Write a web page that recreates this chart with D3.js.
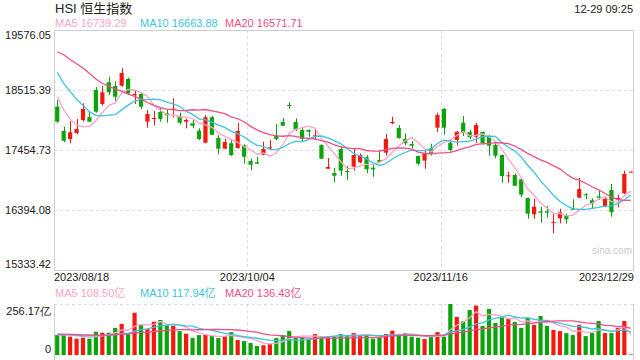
<!DOCTYPE html>
<html>
<head>
<meta charset="utf-8">
<script src="https://cdn.jsdelivr.net/npm/d3@7/dist/d3.min.js"></script>
<style>
body { margin: 0; background: #fff; }
svg { display: block; font-family: Arial, "Liberation Sans", "Noto Sans CJK SC", sans-serif; }
</style>
</head>
<body>
<div id="chart"></div>
<script>
// daily HSI candles, 2023/08/18 .. 2023/12/29
let open = [18220, 17791, 17649, 17755, 17985, 18038, 18515, 18268, 18652, 18586,
	18591, 18710, 18422, 18445, 17955, 18008, 18126, 18104, 18174, 18061,
	17955, 17927, 17796, 17584, 18033, 17667, 17478, 17573, 17490, 17538,
	17260, 17237, 17372, 17490, 17715, 17950, 18250, 17950, 17808, 17808,
	17697, 17543, 17124, 17048, 17472, 17084, 17160, 17237, 17326, 17142,
	17278, 17407, 17927, 17844, 17649, 17561, 17349, 17266, 17485, 17849,
	18180, 17578, 17632, 17937, 17773, 17690, 17773, 17690, 17543, 17366,
	16990, 17013, 16937, 16606, 16318, 16371, 16371, 16164, 16247, 16300,
	16417, 16612, 16672, 16566, 16636, 16465, 16748, 16583, 16689, 17065]
let close = [17955, 17619, 17768, 17826, 18180, 17955, 18132, 18475, 18475, 18397,
	18816, 18457, 18445, 18220, 18091, 18020, 18003, 18068, 18185, 17937,
	17985, 17884, 17649, 18033, 17725, 17478, 17596, 17366, 17791, 17336,
	17195, 17213, 17472, 17502, 17649, 17884, 18245, 17821, 17654, 17778,
	17715, 17301, 17154, 17000, 17089, 17066, 17366, 17366, 17114, 17114,
	17243, 17649, 17950, 17667, 17573, 17531, 17213, 17396, 17396, 18073,
	17849, 17455, 17778, 17761, 17679, 17897, 17573, 17531, 17354, 16995,
	17007, 16824, 16665, 16329, 16452, 16346, 16346, 16182, 16353, 16230,
	16406, 16765, 16654, 16505, 16612, 16589, 16359, 16606, 17030, 17071]
let high = [18339, 17867, 17967, 18003, 18280, 18144, 18568, 18586, 18751, 18669,
	18904, 18733, 18503, 18468, 18162, 18144, 18202, 18174, 18369, 18114,
	18008, 17997, 17838, 18073, 18056, 17715, 17654, 17632, 17937, 17555,
	17301, 17336, 17601, 17632, 17914, 18020, 18298, 18015, 17844, 17815,
	17826, 17555, 17313, 17137, 17502, 17172, 17490, 17396, 17361, 17190,
	17442, 17738, 18043, 17891, 17750, 17614, 17354, 17442, 17566, 18114,
	18197, 17632, 17791, 18056, 17808, 17932, 17782, 17720, 17573, 17375,
	17071, 17036, 16960, 16611, 16594, 16452, 16465, 16346, 16417, 16329,
	16583, 16960, 16689, 16601, 16735, 16629, 16854, 16665, 17089, 17075]
let low = [17937, 17591, 17573, 17732, 17955, 17950, 18114, 18238, 18427, 18321,
	18574, 18445, 18268, 18180, 17849, 17891, 17955, 17937, 18033, 17909,
	17838, 17838, 17632, 17573, 17715, 17379, 17467, 17349, 17478, 17213,
	17096, 17207, 17361, 17455, 17632, 17879, 18185, 17791, 17609, 17690,
	17632, 17296, 17119, 16884, 17000, 16924, 17089, 17220, 17043, 16983,
	17220, 17354, 17909, 17654, 17543, 17485, 17184, 17124, 17354, 17773,
	17725, 17425, 17531, 17702, 17649, 17584, 17555, 17354, 17308, 16877,
	16877, 16818, 16624, 16240, 16240, 16170, 16258, 15982, 16159, 16152,
	16394, 16606, 16589, 16424, 16571, 16442, 16276, 16442, 16672, 17065]
// turnover, 亿
let volume = [100, 105, 92, 82, 87, 82, 117, 112, 112, 136,
	156, 105, 212, 154, 131, 167, 176, 149, 146, 120,
	107, 85, 100, 102, 95, 85, 94, 115, 75, 70,
	60, 45, 49, 55, 85, 100, 120, 87, 89, 79,
	105, 95, 94, 95, 105, 97, 110, 97, 105, 82,
	87, 105, 122, 99, 110, 92, 87, 80, 94, 115,
	92, 256.17, 191, 169, 226, 248, 146, 231, 161, 189,
	181, 166, 136, 186, 151, 196, 146, 126, 120, 110,
	100, 151, 95, 110, 171, 110, 110, 136, 171, 3]
// days before the window, only needed to start the moving averages
let priorCloses = [18668, 19434, 19365, 19639, 19917, 20079, 19990, 19517, 19421, 19539,
	19538, 19184, 19246, 19248, 19075, 18774, 18581, 18329, 18327]
let priorVolumes = [98, 112, 105, 120, 95, 130, 118, 102, 96, 110,
	88, 104, 99, 115, 92, 101, 108, 97, 103]

let xLabels = ["2023/08/18", "2023/10/04", "2023/11/16", "2023/12/29"]
let yTicks = [15333.42, 16394.08, 17454.73, 18515.39, 19576.05]
let volTicks = [0, 256.17]
let maNames = ["MA5", "MA10", "MA20"], maDays = [5, 10, 20]
let maLegend = ["16739.29", "16663.88", "16571.71"]
let volLegend = ["108.50", "117.94", "136.43"]
let maColors = ["#fca4c4", "#3dc3e2", "#ef4f86"]
let upColor = "#f2190f", downColor = "#0aa30a"

let w = 640, h = 360,
	plot = {left: 54, right: 634, top: 30, bottom: 270},
	vol = {top: 304, bottom: 355},
	svg = d3.select("#chart").append("svg")
		.attr("width", w)
		.attr("height", h)

let n = close.length
let x = d3.scaleBand()
	.domain(d3.range(n))
	.range([plot.left, plot.right])
	.paddingInner(0.35)
	.paddingOuter(0.175)
let cx = i => Math.round(x(i) + x.bandwidth() / 2) + 0.5
let y = d3.scaleLinear().domain([yTicks[0], yTicks[4]]).range([plot.bottom, plot.top])
let yv = d3.scaleLinear().domain(volTicks).range([vol.bottom, vol.top])
let xl = d3.scalePoint().domain(xLabels).range([plot.left, plot.right])

let movingAvg = (series, prior, k) => {
	let all = prior.concat(series)
	return series.map((d, i) => d3.mean(all.slice(i + prior.length - k + 1, i + prior.length + 1)))
}
let isUp = i => close[i] >= open[i]

// header
svg.append("text").attr("x", 55).attr("y", 13)
	.attr("font-size", 13).attr("fill", "#222")
	.text("HSI 恒生指数")
svg.append("text").attr("x", 633).attr("y", 13)
	.attr("font-size", 11).attr("fill", "#222").attr("text-anchor", "end")
	.text("12-29 09:25")

let legend = (yPos, vals, unit) => {
	maNames.forEach((m, k) => {
		svg.append("text").attr("x", 55 + k * 85).attr("y", yPos)
			.attr("font-size", 11).attr("fill", maColors[k])
			.text(m + " " + vals[k] + unit)
	})
}
legend(27, maLegend, "")
legend(297, volLegend, "亿")

// grid, main panel
let grid = svg.append("g").attr("stroke", "#dcdcdc").attr("stroke-dasharray", "3,3")
grid.selectAll(".hg").data(yTicks.slice(1, 4)).enter().append("line")
	.attr("x1", plot.left).attr("x2", plot.right)
	.attr("y1", d => Math.round(y(d)) + 0.5).attr("y2", d => Math.round(y(d)) + 0.5)
grid.selectAll(".vg").data(xLabels.slice(1, 3)).enter().append("line")
	.attr("x1", d => Math.round(xl(d)) + 0.5).attr("x2", d => Math.round(xl(d)) + 0.5)
	.attr("y1", plot.top).attr("y2", plot.bottom)
// grid, volume panel
grid.append("line")
	.attr("x1", plot.left).attr("x2", plot.right)
	.attr("y1", vol.top + 0.5).attr("y2", vol.top + 0.5)
grid.selectAll(".vv").data(xLabels.slice(1, 3)).enter().append("line")
	.attr("x1", d => Math.round(xl(d)) + 0.5).attr("x2", d => Math.round(xl(d)) + 0.5)
	.attr("y1", vol.top).attr("y2", h)

svg.append("rect")
	.attr("x", plot.left + 0.5).attr("y", plot.top + 0.5)
	.attr("width", plot.right - plot.left - 1).attr("height", plot.bottom - plot.top)
	.attr("fill", "none").attr("stroke", "#cfcfcf")
svg.selectAll(".vb").data([plot.left + 0.5, plot.right - 0.5]).enter().append("line")
	.attr("x1", d => d).attr("x2", d => d)
	.attr("y1", vol.top).attr("y2", h)
	.attr("stroke", "#cfcfcf")

// watermark
svg.append("text").attr("x", 632).attr("y", 254)
	.attr("font-size", 10).attr("fill", "#cccccc").attr("text-anchor", "end")
	.text("sina.com")

// y axis
let yAxis = svg.append("g")
	.attr("transform", "translate(" + plot.left + ",0)")
	.call(d3.axisLeft(y).tickValues(yTicks).tickSize(0).tickPadding(3).tickFormat(d3.format(".2f")))
yAxis.select(".domain").remove()
yAxis.selectAll("text").attr("font-size", 11).attr("fill", "#222").attr("font-family", null)
	.attr("dy", (d, i) => i === 0 ? "-0.2em" : i === 4 ? "0.8em" : "0.32em")

let vAxis = svg.append("g")
	.attr("transform", "translate(" + plot.left + ",0)")
	.call(d3.axisLeft(yv).tickValues(volTicks).tickSize(0).tickPadding(3)
		.tickFormat(d => d === 0 ? "0" : d3.format(".2f")(d) + "亿"))
vAxis.select(".domain").remove()
vAxis.selectAll("text").attr("font-size", 11).attr("fill", "#222").attr("font-family", null)
	.attr("dy", (d, i) => i === 0 ? "-0.25em" : "0.95em")

// x labels
svg.selectAll(".xl").data(xLabels).enter().append("text")
	.attr("x", d => xl(d)).attr("y", 281)
	.attr("font-size", 11).attr("fill", "#222")
	.attr("text-anchor", (d, i) => i === 0 ? "start" : i === xLabels.length - 1 ? "end" : "middle")
	.text(d => d)

// candles
let candles = svg.append("g")
candles.selectAll("line").data(d3.range(n)).enter().append("line")
	.attr("x1", cx).attr("x2", cx)
	.attr("y1", i => y(high[i])).attr("y2", i => y(low[i]))
	.attr("stroke", i => isUp(i) ? upColor : downColor)
candles.selectAll("rect").data(d3.range(n)).enter().append("rect")
	.attr("x", i => x(i))
	.attr("width", x.bandwidth())
	.attr("y", i => y(Math.max(open[i], close[i])))
	.attr("height", i => Math.max(1, Math.abs(y(open[i]) - y(close[i]))))
	.attr("fill", i => isUp(i) ? upColor : downColor)

// volume bars
svg.append("g").selectAll("rect").data(d3.range(n)).enter().append("rect")
	.attr("x", i => x(i))
	.attr("width", x.bandwidth())
	.attr("y", i => yv(volume[i]))
	.attr("height", i => vol.bottom - yv(volume[i]))
	.attr("fill", i => isUp(i) ? upColor : downColor)

// moving averages
maDays.forEach((k, j) => {
	let line = d3.line().x((d, i) => x(i) + x.bandwidth() / 2)
	svg.append("path")
		.attr("d", line.y(d => y(d))(movingAvg(close, priorCloses, k)))
		.attr("fill", "none").attr("stroke", maColors[j]).attr("stroke-width", 1.3)
	svg.append("path")
		.attr("d", line.y(d => yv(d))(movingAvg(volume, priorVolumes, k)))
		.attr("fill", "none").attr("stroke", maColors[j]).attr("stroke-width", 1.3)
})
</script>
</body>
</html>
